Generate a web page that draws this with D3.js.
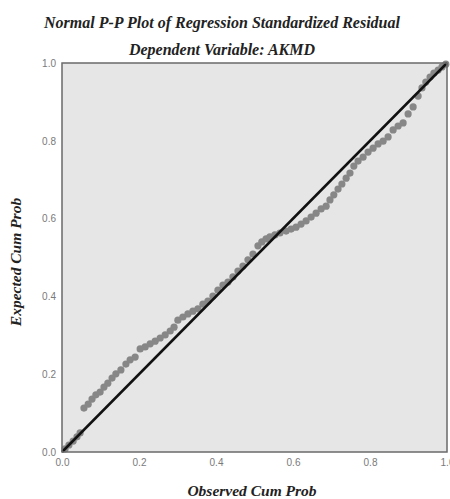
<!DOCTYPE html>
<html>
<head>
<meta charset="utf-8">
<script src="https://cdn.jsdelivr.net/npm/d3@7"></script>
<style>
  body { margin: 0; background: #fff; }
  .title { font-family: "Liberation Serif", serif; font-weight: bold; font-style: italic; fill: #222; }
  .tick text { font-family: "Liberation Sans", sans-serif; font-size: 10px; fill: #7a7a7a; }
</style>
</head>
<body>
<svg id="chart" width="450" height="499"></svg>
<script>
// observed vs expected cumulative probability
var observed = [.008, .018, .029, .039, .047, .057, .068, .078, .088, .099, .109, .119, .130, .140, .153,
  .166, .177, .190, .203, .216, .229, .242, .255, .268, .281, .291, .301, .314, .327, .340,
  .353, .366, .379, .392, .405, .418, .431, .444, .457, .470, .483, .496, .509, .519, .530,
  .540, .553, .566, .582, .595, .608, .621, .634, .647, .660, .673, .686, .696, .706, .717,
  .727, .738, .748, .758, .769, .782, .795, .808, .821, .834, .847, .860, .873, .886, .899,
  .912, .925, .935, .945, .956, .966, .977, .987, .997];
var expected = [.008, .018, .028, .039, .049, .113, .123, .136, .147, .154, .167, .177, .190, .201, .211,
  .226, .237, .244, .265, .270, .278, .285, .293, .301, .311, .321, .339, .347, .355, .362,
  .368, .380, .388, .401, .416, .429, .437, .450, .465, .478, .494, .509, .530, .540, .548,
  .553, .558, .563, .568, .573, .578, .586, .594, .604, .614, .625, .632, .648, .661, .676,
  .689, .704, .717, .735, .748, .758, .771, .781, .792, .799, .810, .828, .838, .846, .869,
  .887, .915, .936, .951, .964, .974, .982, .990, .997];
var tickValues = [0, 0.2, 0.4, 0.6, 0.8, 1.0];

var svg = d3.select("#chart");
var plot = { left: 62, right: 447, top: 63, bottom: 452 };

var x = d3.scaleLinear().domain([0, 1]).range([plot.left, plot.right]);
var y = d3.scaleLinear().domain([0, 1]).range([plot.bottom, plot.top]);

// plot background
svg.append("rect")
    .attr("x", plot.left).attr("y", plot.top)
    .attr("width", plot.right - plot.left).attr("height", plot.bottom - plot.top)
    .attr("fill", "#e6e6e6");

// points
var pts = d3.range(observed.length).map(i => ({ o: observed[i], e: expected[i] }));
svg.append("g").selectAll("circle")
    .data(pts)
    .enter()
    .append("circle")
    .attr("cx", d => x(d.o))
    .attr("cy", d => y(d.e))
    .attr("r", 3.6)
    .attr("fill", "#878787");

// reference diagonal
svg.append("line")
    .attr("x1", x(0)).attr("y1", y(0))
    .attr("x2", x(1)).attr("y2", y(1))
    .attr("stroke", "#111")
    .attr("stroke-width", 2.5);

// frame
svg.append("rect")
    .attr("x", plot.left).attr("y", plot.top)
    .attr("width", plot.right - plot.left).attr("height", plot.bottom - plot.top)
    .attr("fill", "none")
    .attr("stroke", "#6a6a6a")
    .attr("stroke-width", 1.5);

// axes
var xAxis = d3.axisBottom(x).tickValues(tickValues).tickFormat(d3.format(".1f")).tickSize(0).tickPadding(7);
var yAxis = d3.axisLeft(y).tickValues(tickValues).tickFormat(d3.format(".1f")).tickSize(0).tickPadding(6);

svg.append("g").attr("transform", "translate(0," + plot.bottom + ")").call(xAxis)
    .call(g => g.select(".domain").remove());
svg.append("g").attr("transform", "translate(" + plot.left + ",0)").call(yAxis)
    .call(g => g.select(".domain").remove());

// titles
svg.append("text").attr("class", "title")
    .attr("x", 222).attr("y", 28)
    .attr("text-anchor", "middle")
    .style("font-size", "16px")
    .text("Normal P-P Plot of Regression Standardized Residual");
svg.append("text").attr("class", "title")
    .attr("x", 222).attr("y", 55)
    .attr("text-anchor", "middle")
    .style("font-size", "16px")
    .text("Dependent Variable: AKMD");
svg.append("text").attr("class", "title")
    .attr("x", 252).attr("y", 496)
    .attr("text-anchor", "middle")
    .style("font-size", "15.5px")
    .text("Observed Cum Prob");
svg.append("text").attr("class", "title")
    .attr("transform", "translate(21,262) rotate(-90)")
    .attr("text-anchor", "middle")
    .style("font-size", "15.5px")
    .text("Expected Cum Prob");
</script>
</body>
</html>
